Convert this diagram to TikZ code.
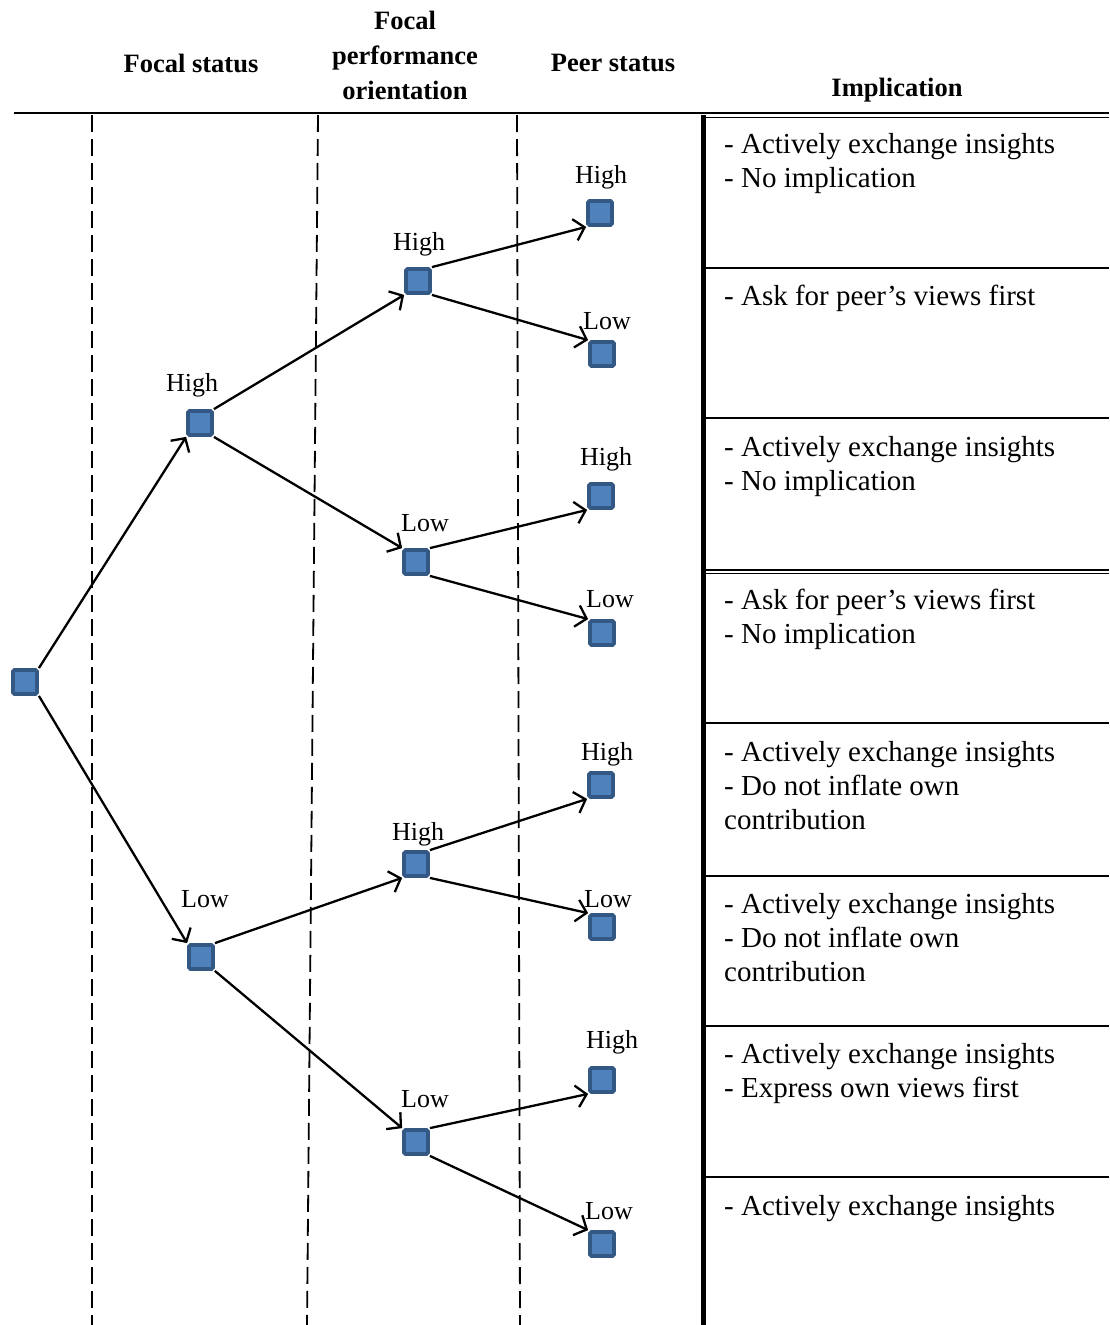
\documentclass[tikz,border=0pt]{standalone}
\usepackage{fontspec}
\setmainfont{Liberation Serif}
\usetikzlibrary{arrows.meta}
\begin{document}
\begin{tikzpicture}[x=1pt,y=-1pt,
  state/.style={rectangle, minimum size=24pt, inner sep=0pt, line width=3.8pt,
    draw={rgb,255:red,52;green,88;blue,132}, fill={rgb,255:red,79;green,129;blue,189},
    rounded corners=1.5pt},
  lab/.style={font=\fontsize{26}{30}\selectfont, inner sep=0pt},
  head/.style={font=\fontsize{26.5}{35}\selectfont\bfseries, align=center, inner sep=0pt},
  impl/.style={font=\fontsize{29}{34}\selectfont, align=left, anchor=north west, inner sep=0pt},
  conn/.style={line width=2.3pt, -{Straight Barb[length=10pt,width=22pt,line width=2.3pt]}},
  guide/.style={line width=1.8pt, dash pattern=on 17pt off 7pt},
  rowrule/.style={line width=1.4pt}]
\useasboundingbox (0,0) rectangle (1109,1325);

% column headings
\node[head] (hfs) at (191,63) {Focal status};
\node[head] (hfp) at (405,55) {Focal\\performance\\orientation};
\node[head] (hps) at (613,63) {Peer status};
\node[head] (him) at (897,90) {Implication};

% rules of the table
\draw[line width=1.8pt] (14,113) -- (1109,113);
\draw[line width=1.4pt] (705,117.5) -- (1109,117.5);
\draw[line width=5pt] (703,115) -- (703,1325);
\foreach \yy in {268,418,570,723,876,1026,1177}
  \draw[rowrule] (706,\yy) -- (1109,\yy);
\draw[rowrule] (706,573.5) -- (1109,573.5);

% dashed column guides
\draw[guide] (92,115) -- (92,1325);
\draw[guide] (318,115) -- (307,1325);
\draw[guide] (517,115) -- (520,1325);

% decision tree
\node[state] (r) at (25,682) {};
\node[state] (h) at (200,423) {};
\node[state] (l) at (201,957) {};
\node[state] (hh) at (418,281) {};
\node[state] (hl) at (416,562) {};
\node[state] (lh) at (416,864) {};
\node[state] (ll) at (416,1142) {};
\node[state] (hhh) at (600,213) {};
\node[state] (hhl) at (602,354) {};
\node[state] (hlh) at (601,496) {};
\node[state] (hll) at (602,633) {};
\node[state] (lhh) at (601,785) {};
\node[state] (lhl) at (602,927) {};
\node[state] (llh) at (602,1080) {};
\node[state] (lll) at (602,1244) {};

% branch labels
\node[lab] (th) at (192,385) {High};
\node[lab] (tl) at (205,899) {Low};
\node[lab] (thh) at (419,244) {High};
\node[lab] (thl) at (425,523) {Low};
\node[lab] (tlh) at (418,834) {High};
\node[lab] (tll) at (425,1099) {Low};
\node[lab] (thhh) at (601,177) {High};
\node[lab] (thhl) at (607,321) {Low};
\node[lab] (thlh) at (606,459) {High};
\node[lab] (thll) at (610,599) {Low};
\node[lab] (tlhh) at (607,754) {High};
\node[lab] (tlhl) at (608,899) {Low};
\node[lab] (tllh) at (612,1042) {High};
\node[lab] (tlll) at (609,1211) {Low};

% branches: upper corner to lower corner and vice versa
\draw[conn] (r.north east) -- (h.south west);
\draw[conn] (r.south east) -- (l.north west);
\draw[conn] (h.north east) -- (hh.south west);
\draw[conn] (h.south east) -- (hl.north west);
\draw[conn] (l.north east) -- (lh.south west);
\draw[conn] (l.south east) -- (ll.north west);
\draw[conn] (hh.north east) -- (hhh.south west);
\draw[conn] (hh.south east) -- (hhl.north west);
\draw[conn] (hl.north east) -- (hlh.south west);
\draw[conn] (hl.south east) -- (hll.north west);
\draw[conn] (lh.north east) -- (lhh.south west);
\draw[conn] (lh.south east) -- (lhl.north west);
\draw[conn] (ll.north east) -- (llh.south west);
\draw[conn] (ll.south east) -- (lll.north west);

% implications
\node[impl] (i1) at (724,133) {- Actively exchange insights\\- No implication};
\node[impl] (i2) at (724,285) {- Ask for peer’s views first};
\node[impl] (i3) at (724,436) {- Actively exchange insights\\- No implication};
\node[impl] (i4) at (724,589) {- Ask for peer’s views first\\- No implication};
\node[impl] (i5) at (724,741) {- Actively exchange insights\\- Do not inflate own\\contribution};
\node[impl] (i6) at (724,893) {- Actively exchange insights\\- Do not inflate own\\contribution};
\node[impl] (i7) at (724,1043) {- Actively exchange insights\\- Express own views first};
\node[impl] (i8) at (724,1195) {- Actively exchange insights};
\end{tikzpicture}
\end{document}
